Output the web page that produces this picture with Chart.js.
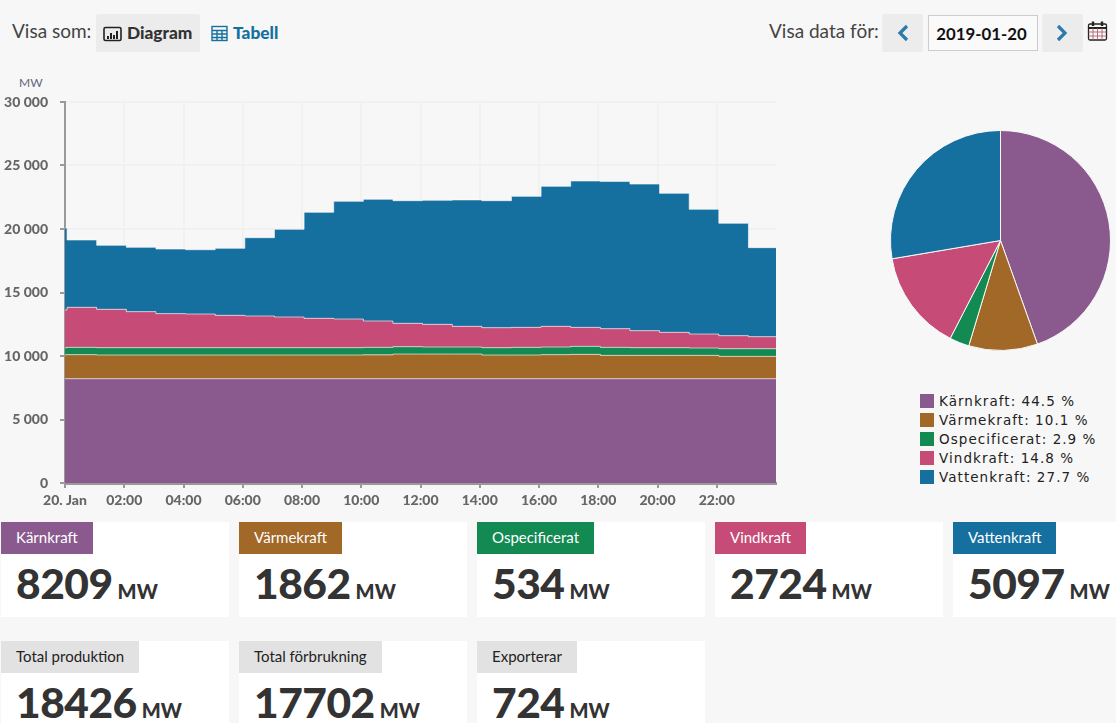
<!DOCTYPE html>
<html lang="sv">
<head>
<meta charset="utf-8">
<title>Elproduktion</title>
<script src="https://cdn.jsdelivr.net/npm/chart.js@4"></script>
<style>
html, body { margin: 0; height: 723px; overflow: hidden; background: #f7f7f7; font-family: Lato, sans-serif; color: #333; }
.abs { position: absolute; }
.btn { background: #ececec; border-radius: 2px; height: 38px; top: 14px; }
.lead { font-size: 19px; top: 19px; color: #444; }
.link { font-size: 17.3px; font-weight: 900; top: 22px; }
.card { position: absolute; width: 228px; height: 95px; background: #fff; }
.card .tag { position: absolute; left: 0; top: 0; height: 32px; line-height: 31px; padding: 0 15px; font-size: 15px; color: #fff; }
.card .tag.grey { background: #e2e2e2; color: #222; }
.card .num { position: absolute; left: 15px; top: 35px; font-size: 42.5px; letter-spacing: -0.5px; font-weight: 900; color: #333; white-space: nowrap; line-height: 52px; }
.card .num span { font-size: 20px; font-weight: 900; margin-left: 5px; letter-spacing: 0; }
#legend { left: 920px; top: 392px; font: 13.5px/19.1px "DejaVu Sans", sans-serif; letter-spacing: 1.05px; color: #222; }
#legend i { display: inline-block; width: 14px; height: 14px; margin-right: 5px; vertical-align: -2px; }
</style>
</head>
<body>
<div class="abs lead" style="left:12px">Visa som:</div>
<div class="abs btn" style="left:96px;width:104px"></div>
<svg class="abs" style="left:103px;top:26px" width="20" height="16" fill="none" stroke="#222">
  <rect x="1" y="1.5" width="17" height="13" rx="1.5" stroke-width="1.6"/>
  <path d="M5 13V10M8 13V7M11 13V9M14 13V5" stroke-width="2"/>
</svg>
<div class="abs link" style="left:127px;color:#333">Diagram</div>
<svg class="abs" style="left:211px;top:25px" width="18" height="17" fill="none" stroke="#16709f" stroke-width="1.4">
  <rect x="1" y="1.5" width="15" height="14"/>
  <path d="M1 5.5H16M1 9H16M1 12.5H16M6 5V15M11 5V15"/>
</svg>
<div class="abs link" style="left:233px;color:#16709f">Tabell</div>

<div class="abs lead" style="left:769px">Visa data för:</div>
<div class="abs btn" style="left:882px;width:41px"></div>
<svg class="abs" style="left:896px;top:24px" width="14" height="18" fill="none" stroke="#2a7bab" stroke-width="3.2"><path d="M11 2L4 9L11 16"/></svg>
<div class="abs" style="left:928px;top:15px;width:108px;height:34px;border:1px solid #ccc;background:#fafafa;text-align:center;font-size:16.8px;font-weight:700;line-height:36px;color:#111;text-indent:-3px">2019-01-20</div>
<div class="abs btn" style="left:1042px;width:41px"></div>
<svg class="abs" style="left:1055px;top:24px" width="14" height="18" fill="none" stroke="#2a7bab" stroke-width="3.2"><path d="M3 2L10 9L3 16"/></svg>
<svg class="abs" style="left:1087px;top:20px" width="22" height="22" fill="none" stroke="#222" stroke-width="1.3">
  <rect x="1.5" y="4" width="18" height="16" rx="1.5"/>
  <path d="M1.5 8H19.5" stroke-width="2"/>
  <path d="M6 1.5V6M15 1.5V6" stroke-width="2.4"/>
  <path d="M1.5 12H19.5M1.5 16H19.5M6 8V20M10.5 8V20M15 8V20" stroke="#b05060" stroke-width=".8"/>
</svg>

<div class="abs" style="left:19px;top:75px;font-size:12px;color:#667">MW</div>
<canvas id="areaChart" class="abs" style="left:0;top:90px"></canvas>
<canvas id="pieChart" class="abs" style="left:890px;top:130px"></canvas>
<div id="legend" class="abs"></div>
<div id="cards"></div>

<script>
const names = ['Kärnkraft', 'Värmekraft', 'Ospecificerat', 'Vindkraft', 'Vattenkraft'];
const colors = ['#8a5a8f', '#a16827', '#138a52', '#c64b76', '#16709f'];

// x in hours, the values change a few minutes past each hour
const hours = [0, 0.07, 1.07, 2.07, 3.07, 4.07, 5.07, 6.07, 7.07, 8.07, 9.07, 10.07, 11.07, 12.07, 13.07, 14.07, 15.07, 16.07, 17.07, 18.07, 19.07, 20.07, 21.07, 22.07, 23.07, 24];
const karnkraft = [8212, 8212, 8212, 8212, 8212, 8212, 8212, 8212, 8212, 8212, 8212, 8212, 8212, 8212, 8212, 8212, 8212, 8212, 8212, 8212, 8212, 8212, 8212, 8212, 8212, 8212];
const varmekraft = [1888, 1893, 1866, 1866, 1866, 1866, 1866, 1866, 1866, 1866, 1866, 1878, 1943, 1943, 1943, 1864, 1864, 1891, 1917, 1838, 1838, 1838, 1838, 1760, 1760, 1760];
const ospecificerat = [550, 577, 578, 578, 578, 578, 578, 578, 578, 578, 578, 592, 578, 552, 552, 578, 604, 604, 631, 630, 604, 604, 578, 603, 603, 603];
const vindkraft = [2972, 3150, 3019, 2835, 2677, 2651, 2546, 2494, 2415, 2310, 2257, 2074, 1839, 1785, 1627, 1575, 1575, 1627, 1495, 1470, 1339, 1208, 1102, 1025, 945, 945];
const vattenkraft = [6457, 5302, 5040, 5066, 5092, 5063, 5278, 6165, 6904, 8349, 9267, 9584, 9658, 9768, 9956, 10001, 10315, 11026, 11525, 11600, 11547, 10948, 9820, 8850, 7010, 7010];
const yTicks = [0, 5000, 10000, 15000, 20000, 25000, 30000];
const xTickLabels = ['20. Jan', '02:00', '04:00', '06:00', '08:00', '10:00', '12:00', '14:00', '16:00', '18:00', '20:00', '22:00'];

// current hour, shown in the pie and the cards
const currentValues = [8209, 1862, 534, 2724, 5097];
const percents = ['44.5', '10.1', '2.9', '14.8', '27.7'];
const totalNames = ['Total produktion', 'Total förbrukning', 'Exporterar'];
const totalValues = [18426, 17702, 724];

const seriesValues = [karnkraft, varmekraft, ospecificerat, vindkraft, vattenkraft];

const areaCanvas = document.getElementById('areaChart');
areaCanvas.width = 790;
areaCanvas.height = 423;
new Chart(areaCanvas, {
    type: 'line',
    data: {
        datasets: names.map((name, i) => ({
            label: name,
            data: seriesValues[i].map((v, j) => ({ x: hours[j], y: v })),
            backgroundColor: colors[i],
            borderColor: 'rgba(255,255,255,0.6)',
            borderWidth: 1,
            pointRadius: 0,
            stepped: true,
            fill: i === 0 ? 'origin' : '-1'
        }))
    },
    options: {
        responsive: false,
        animation: false,
        layout: { padding: { top: 12, right: 14 } },
        plugins: { legend: { display: false }, tooltip: { enabled: false } },
        scales: {
            x: {
                type: 'linear',
                min: 0,
                max: 24,
                afterBuildTicks: s => { s.ticks = xTickLabels.map((_, i) => ({ value: i * 2 })); },
                afterFit: s => { s.height = 30; },
                grid: { color: '#f1f1f1', lineWidth: 2, tickColor: '#999', tickLength: 5 },
                border: { color: '#999', width: 3 },
                ticks: {
                    callback: v => xTickLabels[v / 2],
                    maxRotation: 0,
                    autoSkip: false,
                    color: '#666',
                    padding: 4,
                    font: { family: 'Lato', size: 14, weight: '900' }
                }
            },
            y: {
                stacked: true,
                min: 0,
                max: 30000,
                afterBuildTicks: s => { s.ticks = yTicks.map(v => ({ value: v })); },
                // tick padding also adds to the top margin, drop it
                afterFit: s => { s.width = 65; s.paddingTop = 0; s.paddingBottom = 0; },
                grid: { color: '#f1f1f1', lineWidth: 2, tickColor: '#999', tickLength: 5 },
                border: { color: '#999', width: 2 },
                ticks: {
                    callback: v => String(v).replace(/\B(?=(\d{3})+$)/g, ' '),
                    color: '#666',
                    padding: 12,
                    font: { family: 'Lato', size: 14, weight: '900' }
                }
            }
        }
    }
});

const pieCanvas = document.getElementById('pieChart');
pieCanvas.width = 221;
pieCanvas.height = 221;
new Chart(pieCanvas, {
    type: 'pie',
    data: {
        labels: names,
        datasets: [{
            data: currentValues,
            backgroundColor: colors,
            borderColor: '#f7f7f7',
            borderWidth: 1
        }]
    },
    options: {
        responsive: false,
        animation: false,
        plugins: { legend: { display: false }, tooltip: { enabled: false } }
    }
});

document.getElementById('legend').innerHTML = names.map((name, i) =>
    '<div><i style="background:' + colors[i] + '"></i>' + name + ': ' + percents[i] + ' %</div>'
).join('');

function addCard(left, top, name, value, color) {
    const style = color ? ' style="background:' + color + '"' : '';
    const tagClass = color ? 'tag' : 'tag grey';
    document.getElementById('cards').insertAdjacentHTML('beforeend',
        '<div class="card" style="left:' + left + 'px;top:' + top + 'px">' +
        '<div class="' + tagClass + '"' + style + '>' + name + '</div>' +
        '<div class="num">' + value + '<span>MW</span></div></div>');
}
names.forEach((name, i) => addCard(1 + i * 238, 522, name, currentValues[i], colors[i]));
totalNames.forEach((name, i) => addCard(1 + i * 238, 641, name, totalValues[i]));
</script>
</body>
</html>
